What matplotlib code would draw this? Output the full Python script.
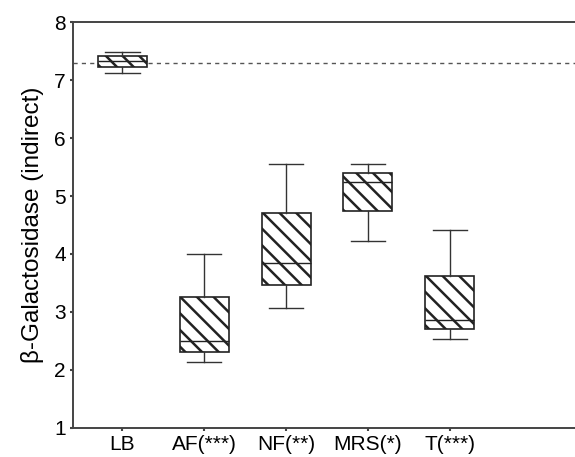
import matplotlib.pyplot as plt

plt.rcParams['font.family'] = ['Liberation Sans', 'DejaVu Sans']
plt.rcParams['hatch.linewidth'] = 1.8

groups = ['LB', 'AF(***)', 'NF(**)', 'MRS(*)', 'T(***)']
whislo = [7.13, 2.14, 3.07, 4.23, 2.54]
q1 = [7.22, 2.31, 3.46, 4.74, 2.70]
med = [7.33, 2.50, 3.84, 5.25, 2.86]
q3 = [7.41, 3.25, 4.70, 5.40, 3.62]
whishi = [7.49, 4.00, 5.56, 5.56, 4.41]
lb_ref = 7.29

stats = []
for i, g in enumerate(groups):
    stats.append(dict(label=g, whislo=whislo[i], q1=q1[i], med=med[i],
                      q3=q3[i], whishi=whishi[i], fliers=[]))

fig = plt.figure(figsize=(5.75, 4.57), dpi=100)
ax = fig.add_axes([0.1275, 0.0641, 0.8725, 0.8871])

bp = ax.bxp(stats, positions=range(1, 6), widths=0.6, patch_artist=True,
            showfliers=False,
            boxprops=dict(facecolor='white', edgecolor='#222222', linewidth=1.2),
            medianprops=dict(color='#222222', linewidth=1.0),
            whiskerprops=dict(color='#333333', linewidth=1.0),
            capprops=dict(color='#333333', linewidth=1.0),
            capwidths=0.42)
for b in bp['boxes']:
    b.set_hatch('\\\\')

# reference level of the LB control
ax.axhline(lb_ref, color='#555555', linestyle=(0, (3, 3)), linewidth=1.0, zorder=1)

ax.set_xlim(0.4, 6.53)
ax.set_ylim(1, 8)
ax.set_yticks(range(1, 9))
ax.set_xticks(range(1, 6))
ax.set_xticklabels(groups)
ax.tick_params(labelsize=15, length=2.5, width=1.5, color='#444444', pad=3)
ax.set_ylabel('β-Galactosidase (indirect)', fontsize=17.5, labelpad=7)

for side in ['left', 'bottom', 'top']:
    ax.spines[side].set_color('#444444')
    ax.spines[side].set_linewidth(1.4)
ax.spines['right'].set_visible(False)

fig.savefig('out.png', dpi=100)
